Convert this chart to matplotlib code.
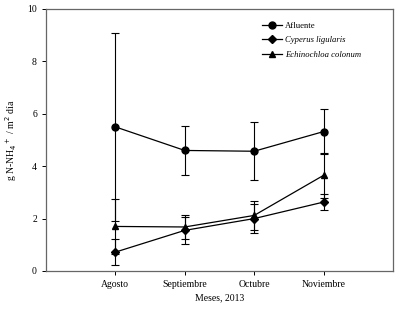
import matplotlib
matplotlib.use("Agg")
import matplotlib.pyplot as plt
from matplotlib.lines import Line2D
import numpy as np

months = ["Agosto", "Septiembre", "Octubre", "Noviembre"]
afluente = [5.5, 4.6, 4.57, 5.32]
afluente_err = [3.6, 0.95, 1.1, 0.85]
cyperus = [0.72, 1.55, 2.0, 2.63]
cyperus_err = [0.5, 0.52, 0.55, 0.3]
echino = [1.7, 1.68, 2.12, 3.65]
echino_err = [1.05, 0.45, 0.55, 0.85]
labels = ["Afluente", "Cyperus ligularis", "Echinochloa colonum"]

plt.rcParams['font.family'] = ['Liberation Serif', 'DejaVu Serif']

fig = plt.figure(figsize=(4.03, 3.09), dpi=100)
ax = fig.add_axes([0.114, 0.123, 0.861, 0.848])

x = np.arange(1, len(months) + 1)
common = dict(color='black', lw=0.9, elinewidth=0.8, capsize=3, capthick=0.8)
ax.errorbar(x, afluente, yerr=afluente_err, marker='o', markersize=5, **common)
ax.errorbar(x, cyperus, yerr=cyperus_err, marker='D', markersize=4.5, **common)
ax.errorbar(x, echino, yerr=echino_err, marker='^', markersize=5, **common)

ax.set_xlim(0, 5)
ax.set_ylim(0, 10)
ax.set_xticks(x)
ax.set_xticklabels(months, fontsize=7)
ax.set_yticks([0, 2, 4, 6, 8, 10])
ax.tick_params(axis='both', direction='out', length=3, width=0.7, labelsize=7, colors='black')
for s in ax.spines.values():
    s.set_color('#666666')
    s.set_linewidth(0.9)

ax.set_xlabel('Meses, 2013', fontsize=7, labelpad=3)
ax.set_ylabel('g N-NH$_4$$^+$ / m$^2$ día', fontsize=7, labelpad=6)

handles = [Line2D([], [], color='black', lw=0.9, marker='o', markersize=5),
           Line2D([], [], color='black', lw=0.9, marker='D', markersize=4.5),
           Line2D([], [], color='black', lw=0.9, marker='^', markersize=5)]
leg = ax.legend(handles, labels, loc='upper left', bbox_to_anchor=(0.6, 0.98), frameon=False,
                fontsize=6.2, handlelength=2.3, handletextpad=0.4, labelspacing=0.75)
for t in leg.get_texts()[1:]:
    t.set_style('italic')

fig.savefig('out.png', dpi=100)
